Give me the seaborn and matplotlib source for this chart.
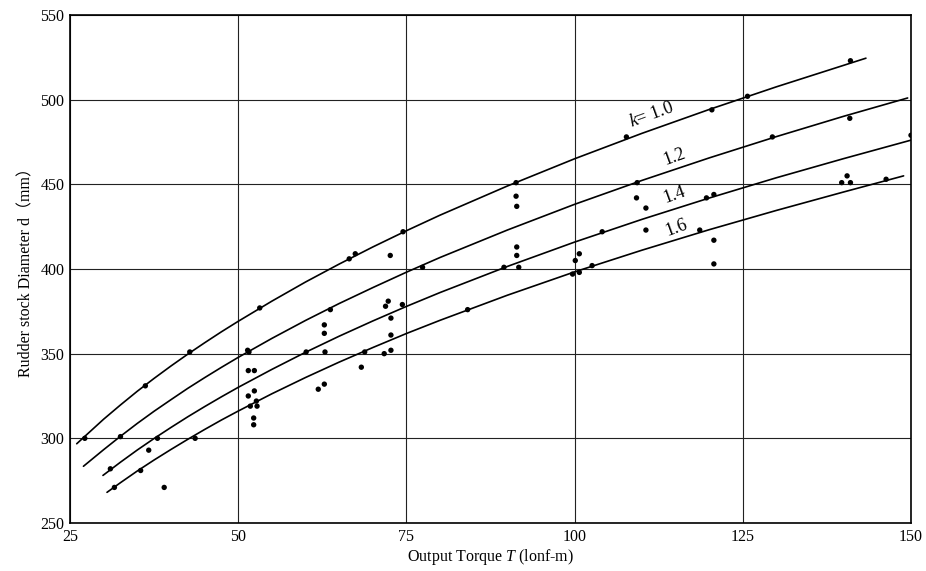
import pandas as pd
import matplotlib.pyplot as plt
import seaborn as sns

# curve k = 1.0 .. 1.6
k10_T = [26, 30, 32.5, 35, 37.5, 40, 42.5, 45, 47.5, 50, 55, 60, 65, 70, 75, 80, 90,
         100, 110, 120, 130, 140, 143.3]
k10_d = [296.8, 311.3, 319.7, 327.8, 335.4, 342.7, 349.7, 356.4, 362.9, 369.1, 381.0,
         392.3, 402.9, 413.0, 422.6, 431.8, 449.0, 465.1, 480.1, 494.2, 507.6, 520.3, 524.5]

k12_T = [27, 30, 32.5, 35, 37.5, 40, 42.5, 45, 47.5, 50, 55, 60, 65, 70, 75, 80, 90,
         100, 110, 120, 130, 140, 149.5]
k12_d = [283.5, 293.3, 301.2, 308.8, 316.0, 322.8, 329.5, 335.8, 341.9, 347.8, 359.0,
         369.6, 379.6, 389.0, 398.1, 406.8, 423.0, 438.2, 452.3, 465.6, 478.2, 490.2, 501.0]

k14_T = [29.9, 32.5, 35, 37.5, 40, 42.5, 45, 47.5, 50, 55, 60, 65, 70, 75, 80, 90,
         100, 110, 120, 130, 140, 150]
k14_d = [278.1, 285.9, 293.1, 299.9, 306.4, 312.7, 318.7, 324.5, 330.1, 340.7, 350.8,
         360.3, 369.3, 377.9, 386.1, 401.5, 415.9, 429.3, 441.9, 453.9, 465.2, 476.1]

k16_T = [30.5, 32.5, 35, 37.5, 40, 42.5, 45, 47.5, 50, 55, 60, 65, 70, 75, 80, 90,
         100, 110, 120, 130, 140, 148.9]
k16_d = [268.1, 273.8, 280.7, 287.2, 293.4, 299.4, 305.2, 310.8, 316.1, 326.3, 335.9,
         345.0, 353.6, 361.9, 369.7, 384.5, 398.3, 411.1, 423.2, 434.6, 445.5, 455.0]

# measured ships
pts_T = [27.2, 31.0, 31.6, 32.5, 35.5, 36.2, 36.7, 38.0, 39.0, 42.8, 43.6,
         51.4, 51.6, 51.5, 52.4, 51.5, 52.4, 51.8, 52.7, 52.8, 52.3, 52.3, 53.2,
         60.1, 61.9, 62.8, 62.8, 62.9, 62.8, 63.7, 66.5, 67.4, 68.3, 68.8,
         71.7, 71.9, 72.3, 72.6, 72.7, 72.7, 72.7, 74.4, 74.5, 77.4, 84.1,
         89.5, 91.3, 91.3, 91.4, 91.4, 91.4, 91.7, 99.7, 100.1, 100.7, 100.7, 102.6, 104.1,
         107.7, 109.2, 109.3, 110.6, 110.6, 118.6, 119.6, 120.4, 120.7, 120.7, 120.7,
         125.7, 129.4, 139.7, 140.5, 140.9, 141.0, 141.0, 146.3, 150.0]
pts_d = [300, 282, 271, 301, 281, 331, 293, 300, 271, 351, 300,
         352, 351, 340, 340, 325, 328, 319, 322, 319, 312, 308, 377,
         351, 329, 367, 362, 351, 332, 376, 406, 409, 342, 351,
         350, 378, 381, 408, 371, 361, 352, 379, 422, 401, 376,
         401, 451, 443, 437, 413, 408, 401, 397, 405, 409, 398, 402, 422,
         478, 442, 451, 436, 423, 423, 442, 494, 444, 417, 403,
         502, 478, 451, 455, 489, 523, 451, 453, 479]

curve_labels = ["$k$= 1.0", "1.2", "1.4", "1.6"]
label_T = [111.5, 114.8, 114.8, 115.1]
label_d = [491, 466, 444, 424]

x_ticks = [25, 50, 75, 100, 125, 150]
y_ticks = [250, 300, 350, 400, 450, 500, 550]


def main():
    sns.set_style("white")
    plt.rcParams["font.family"] = ["Liberation Serif", "Noto Sans CJK JP"]
    plt.rcParams["mathtext.fontset"] = "custom"
    plt.rcParams["mathtext.it"] = "Liberation Serif:italic"
    plt.rcParams["mathtext.rm"] = "Liberation Serif"
    for key in ["text.color", "axes.labelcolor", "xtick.color", "ytick.color"]:
        plt.rcParams[key] = "black"

    curves = pd.concat([
        pd.DataFrame({"T": k10_T, "d": k10_d, "k": "1.0"}),
        pd.DataFrame({"T": k12_T, "d": k12_d, "k": "1.2"}),
        pd.DataFrame({"T": k14_T, "d": k14_d, "k": "1.4"}),
        pd.DataFrame({"T": k16_T, "d": k16_d, "k": "1.6"}),
    ])
    pts = pd.DataFrame({"T": pts_T, "d": pts_d})

    fig = plt.figure(figsize=(9.26, 5.71), dpi=100)
    ax = fig.add_axes([0.0756, 0.0841, 0.9082, 0.8896])

    sns.lineplot(data=curves, x="T", y="d", units="k", estimator=None,
                 color="black", lw=1.2, sort=False, ax=ax)
    sns.scatterplot(data=pts, x="T", y="d", color="black", s=15,
                    edgecolor="none", ax=ax)

    for lab, t, d in zip(curve_labels, label_T, label_d):
        ax.text(t, d, lab, fontsize=13, rotation=20, ha="center", va="center")

    ax.set_xlim(25, 150)
    ax.set_ylim(250, 550)
    ax.set_xticks(x_ticks)
    ax.set_yticks(y_ticks)
    ax.grid(True, color="#222222", lw=0.8)
    for s in ax.spines.values():
        s.set_color("black")
        s.set_linewidth(1.2)
    ax.tick_params(labelsize=11.5, length=0, pad=4)
    ax.set_xlabel("Output Torque $T$ (lonf-m)", fontsize=11.5, labelpad=2)
    ax.set_ylabel("Rudder stock Diameter d（mm）", fontsize=11.5, labelpad=4)

    fig.savefig("out.png", dpi=100)


if __name__ == "__main__":
    main()
